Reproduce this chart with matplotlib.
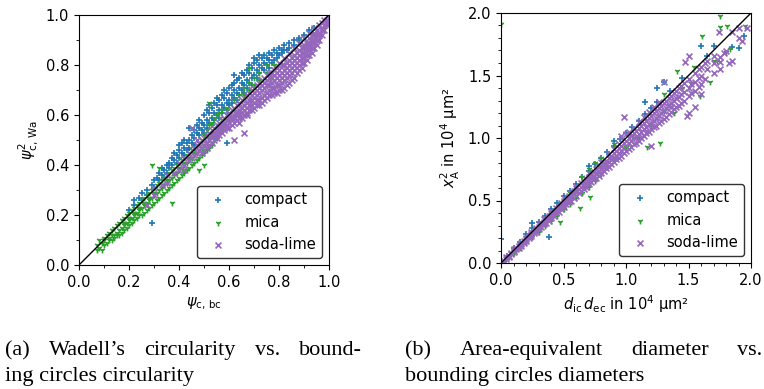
import matplotlib
matplotlib.use('Agg')
import matplotlib.pyplot as plt
import numpy as np

# (x, [y values]) groups
# panel (a): psi_c,bc vs psi^2_c,Wa
a_compact = [
    (0.20, [0.22]), (0.22, [0.24, 0.26]), (0.24, [0.27]), (0.25, [0.26, 0.29]), (0.27, [0.30, 0.28]),
    (0.29, [0.17, 0.32]), (0.30, [0.31, 0.34]), (0.31, [0.35]), (0.32, [0.34, 0.37]),
    (0.33, [0.36, 0.39]), (0.34, [0.38, 0.35]), (0.35, [0.40, 0.37]), (0.36, [0.41, 0.39]),
    (0.37, [0.43, 0.40]), (0.38, [0.42, 0.45]), (0.39, [0.44, 0.41]), (0.40, [0.46, 0.43, 0.48]),
    (0.41, [0.45, 0.49]), (0.42, [0.47, 0.50, 0.44]), (0.43, [0.49, 0.46]), (0.44, [0.55, 0.50, 0.47]),
    (0.45, [0.52, 0.49]), (0.46, [0.51, 0.54, 0.48]), (0.47, [0.53, 0.56]), (0.48, [0.55, 0.52, 0.58]),
    (0.49, [0.54, 0.57]), (0.50, [0.56, 0.60, 0.53]), (0.51, [0.58, 0.62, 0.55]),
    (0.52, [0.57, 0.61, 0.64]), (0.53, [0.59, 0.63, 0.56]), (0.54, [0.61, 0.65, 0.58]),
    (0.55, [0.60, 0.64, 0.67, 0.51]), (0.56, [0.62, 0.66, 0.59]), (0.57, [0.64, 0.68, 0.61]),
    (0.58, [0.63, 0.67, 0.70]), (0.59, [0.65, 0.69, 0.49, 0.62]), (0.60, [0.66, 0.71, 0.64]),
    (0.61, [0.68, 0.72, 0.65]), (0.62, [0.67, 0.70, 0.76, 0.73]), (0.63, [0.69, 0.74, 0.66]),
    (0.64, [0.71, 0.75, 0.68]), (0.65, [0.70, 0.73, 0.77]), (0.66, [0.72, 0.76, 0.69]),
    (0.67, [0.74, 0.78, 0.71]), (0.68, [0.73, 0.77, 0.80]), (0.69, [0.75, 0.79, 0.72]),
    (0.70, [0.76, 0.81, 0.83]), (0.71, [0.78, 0.82, 0.75]), (0.72, [0.77, 0.80, 0.84]),
    (0.73, [0.79, 0.83]), (0.74, [0.78, 0.81, 0.84]), (0.75, [0.80, 0.83]), (0.76, [0.79, 0.82, 0.85]),
    (0.77, [0.81, 0.84]), (0.78, [0.82, 0.86]), (0.79, [0.83, 0.85]), (0.80, [0.84, 0.87]),
    (0.81, [0.85, 0.86]), (0.82, [0.86, 0.88]), (0.83, [0.86]), (0.84, [0.87, 0.89]),
    (0.86, [0.88, 0.90]), (0.88, [0.90, 0.91]), (0.90, [0.92]), (0.92, [0.94]), (0.94, [0.95]),
]
a_mica = [
    (0.07, [0.06, 0.08]), (0.08, [0.07, 0.10]), (0.09, [0.06, 0.09]), (0.10, [0.08, 0.11, 0.10]),
    (0.11, [0.09, 0.12]), (0.12, [0.10, 0.13, 0.11]), (0.13, [0.10, 0.12, 0.14]),
    (0.14, [0.12, 0.15, 0.11]), (0.15, [0.13, 0.16, 0.12]), (0.16, [0.14, 0.17, 0.12]),
    (0.17, [0.15, 0.13, 0.18]), (0.18, [0.16, 0.14, 0.19, 0.17]), (0.19, [0.17, 0.15, 0.20]),
    (0.20, [0.18, 0.16, 0.21, 0.19]), (0.21, [0.19, 0.17, 0.22]), (0.22, [0.20, 0.18, 0.23, 0.21]),
    (0.23, [0.21, 0.19, 0.24]), (0.24, [0.22, 0.20, 0.25, 0.23]), (0.25, [0.23, 0.20, 0.26]),
    (0.26, [0.24, 0.21, 0.27, 0.25]), (0.27, [0.25, 0.22, 0.28]), (0.28, [0.26, 0.23, 0.29, 0.27]),
    (0.29, [0.27, 0.24, 0.30, 0.40]), (0.30, [0.28, 0.25, 0.31, 0.29]), (0.31, [0.29, 0.26, 0.32]),
    (0.32, [0.30, 0.27, 0.33, 0.39]), (0.33, [0.31, 0.28, 0.34, 0.32]), (0.34, [0.32, 0.29, 0.35]),
    (0.35, [0.33, 0.30, 0.36, 0.34]), (0.36, [0.34, 0.31, 0.37]), (0.37, [0.35, 0.25, 0.32, 0.38]),
    (0.38, [0.36, 0.33, 0.39, 0.37]), (0.39, [0.37, 0.34, 0.40]), (0.40, [0.38, 0.35, 0.41, 0.39]),
    (0.41, [0.39, 0.36, 0.42]), (0.42, [0.40, 0.37, 0.43, 0.41]), (0.43, [0.41, 0.38, 0.44]),
    (0.44, [0.42, 0.39, 0.45, 0.43]), (0.45, [0.43, 0.40, 0.46]), (0.46, [0.44, 0.41, 0.47, 0.45]),
    (0.47, [0.45, 0.42, 0.48]), (0.48, [0.46, 0.38, 0.43, 0.49]), (0.49, [0.47, 0.44, 0.50]),
    (0.50, [0.48, 0.40, 0.45, 0.52]), (0.51, [0.49, 0.46, 0.54]), (0.52, [0.51, 0.47, 0.56, 0.65]),
    (0.53, [0.52, 0.48, 0.57]), (0.54, [0.53, 0.50, 0.59]), (0.55, [0.55, 0.51, 0.60]),
    (0.56, [0.56, 0.53, 0.61]), (0.57, [0.58, 0.54, 0.62]), (0.58, [0.59, 0.56]),
    (0.59, [0.60, 0.63]), (0.60, [0.61, 0.58]), (0.62, [0.63, 0.66]), (0.64, [0.65, 0.68]),
    (0.66, [0.68, 0.71]), (0.68, [0.70, 0.73, 0.79]), (0.70, [0.72, 0.75]), (0.72, [0.74, 0.77]),
    (0.75, [0.77, 0.80]), (0.78, [0.80]),
]
a_soda = [
    (0.27, [0.24]), (0.30, [0.28, 0.31]), (0.33, [0.32]), (0.35, [0.33, 0.36]), (0.38, [0.37]),
    (0.40, [0.38, 0.41]), (0.42, [0.40, 0.43, 0.38]), (0.44, [0.42, 0.45]), (0.45, [0.43, 0.55]),
    (0.46, [0.44, 0.47]), (0.47, [0.45, 0.48, 0.50]), (0.48, [0.46, 0.49]), (0.49, [0.47, 0.50, 0.45]),
    (0.50, [0.48, 0.51, 0.46]), (0.51, [0.49, 0.52, 0.47]), (0.52, [0.50, 0.53, 0.48]),
    (0.53, [0.51, 0.54, 0.49, 0.52]), (0.54, [0.52, 0.55, 0.50]), (0.55, [0.51, 0.53, 0.56, 0.54]),
    (0.56, [0.52, 0.55, 0.57, 0.54]), (0.57, [0.53, 0.56, 0.58, 0.55]), (0.58, [0.54, 0.57, 0.59, 0.56]),
    (0.59, [0.55, 0.58, 0.60, 0.56]), (0.60, [0.55, 0.57, 0.60, 0.59, 0.61]),
    (0.61, [0.56, 0.59, 0.62, 0.58]), (0.62, [0.57, 0.60, 0.63, 0.50, 0.59]),
    (0.63, [0.58, 0.61, 0.64, 0.60]), (0.64, [0.59, 0.62, 0.65, 0.61, 0.57]),
    (0.65, [0.59, 0.63, 0.66, 0.61]), (0.66, [0.60, 0.64, 0.67, 0.53, 0.62]),
    (0.67, [0.61, 0.65, 0.68, 0.60, 0.63]), (0.68, [0.62, 0.66, 0.69, 0.64]),
    (0.69, [0.62, 0.66, 0.70, 0.64, 0.68]), (0.70, [0.63, 0.67, 0.71, 0.65, 0.69]),
    (0.71, [0.64, 0.68, 0.72, 0.66, 0.70]), (0.72, [0.64, 0.69, 0.73, 0.66, 0.71]),
    (0.73, [0.65, 0.70, 0.74, 0.67, 0.72]), (0.74, [0.66, 0.71, 0.75, 0.68, 0.73]),
    (0.75, [0.67, 0.72, 0.76, 0.69, 0.74]), (0.76, [0.68, 0.72, 0.77, 0.70, 0.75]),
    (0.77, [0.68, 0.73, 0.77, 0.71, 0.75]), (0.78, [0.69, 0.74, 0.78, 0.71, 0.76]),
    (0.79, [0.69, 0.75, 0.79, 0.72, 0.77]), (0.80, [0.70, 0.74, 0.78, 0.81, 0.72, 0.76]),
    (0.81, [0.70, 0.75, 0.80, 0.73, 0.77]), (0.82, [0.71, 0.76, 0.80, 0.83, 0.74, 0.78]),
    (0.83, [0.72, 0.77, 0.81, 0.75, 0.79]), (0.84, [0.73, 0.78, 0.82, 0.85, 0.76, 0.80]),
    (0.85, [0.74, 0.79, 0.83, 0.77, 0.81]), (0.86, [0.75, 0.80, 0.84, 0.87, 0.78, 0.82]),
    (0.87, [0.77, 0.81, 0.85, 0.79, 0.83]), (0.88, [0.78, 0.82, 0.86, 0.89, 0.80, 0.84]),
    (0.89, [0.79, 0.83, 0.87, 0.81, 0.85]), (0.90, [0.81, 0.85, 0.88, 0.91, 0.83, 0.87]),
    (0.91, [0.82, 0.86, 0.89, 0.84, 0.88]), (0.92, [0.84, 0.87, 0.91, 0.93, 0.86, 0.89]),
    (0.93, [0.85, 0.89, 0.92, 0.87, 0.90]), (0.94, [0.87, 0.90, 0.93, 0.95, 0.89, 0.92]),
    (0.95, [0.88, 0.92, 0.94, 0.90]), (0.96, [0.90, 0.93, 0.96, 0.92]), (0.97, [0.92, 0.95, 0.97, 0.94]),
    (0.98, [0.94, 0.96, 0.98]), (0.99, [0.96, 0.98, 0.97]), (1.00, [0.99]),
]

# panel (b): d_ic*d_ec vs x_A^2, in 1e4 um^2
b_compact = [
    (0.00, [0.19]), (0.05, [0.06]), (0.10, [0.12]), (0.15, [0.17]), (0.20, [0.23]),
    (0.25, [0.28, 0.32]), (0.30, [0.33]), (0.35, [0.38]), (0.38, [0.21]), (0.40, [0.43]),
    (0.45, [0.48]), (0.50, [0.54]), (0.55, [0.58]), (0.60, [0.63]), (0.65, [0.69]),
    (0.70, [0.74, 0.78]), (0.75, [0.79]), (0.80, [0.84]), (0.85, [0.89]), (0.90, [0.94, 0.98]),
    (0.95, [0.99]), (1.00, [1.04]), (1.05, [1.09]), (1.10, [1.14]), (1.15, [1.19, 1.29]),
    (1.20, [1.24]), (1.25, [1.29, 1.40]), (1.30, [1.45]), (1.35, [1.38]), (1.45, [1.48]),
    (1.60, [1.74]), (1.65, [1.66]), (1.70, [1.74]), (1.85, [1.73]), (1.90, [1.72]), (1.94, [1.82]),
]
b_mica = [
    (0.00, [1.91]), (0.03, [0.02]), (0.06, [0.05]), (0.10, [0.08, 0.11]), (0.15, [0.12, 0.15]),
    (0.20, [0.17, 0.20]), (0.25, [0.21, 0.25]), (0.30, [0.25, 0.30]), (0.35, [0.30, 0.35]),
    (0.40, [0.34, 0.40]), (0.45, [0.38, 0.44]), (0.47, [0.33]), (0.50, [0.43, 0.50]),
    (0.55, [0.47, 0.56]), (0.60, [0.52, 0.60]), (0.63, [0.44]), (0.65, [0.56, 0.69]),
    (0.70, [0.61, 0.75]), (0.71, [0.53]), (0.75, [0.66, 0.80]), (0.80, [0.71, 0.84]),
    (0.85, [0.77]), (0.90, [0.83, 0.95]), (0.95, [0.88]), (1.00, [0.93]), (1.05, [1.02]),
    (1.10, [1.00]), (1.17, [0.93]), (1.20, [1.10]), (1.27, [0.96]), (1.30, [1.22, 1.35]),
    (1.38, [1.20]), (1.41, [1.54]), (1.45, [1.40]), (1.53, [1.44]), (1.54, [1.57]),
    (1.59, [1.34]), (1.61, [1.82]), (1.67, [1.45]), (1.70, [1.62]), (1.73, [1.62]),
    (1.75, [1.89, 1.98]), (1.80, [1.69]), (1.81, [1.90]), (1.83, [1.71]), (1.95, [1.90]),
]
b_soda = [
    (0.02, [0.02]), (0.04, [0.03, 0.05]), (0.06, [0.05, 0.06]), (0.08, [0.07, 0.08]),
    (0.10, [0.09, 0.10, 0.11]), (0.12, [0.11, 0.12]), (0.14, [0.12, 0.14]), (0.16, [0.15, 0.16, 0.14]),
    (0.18, [0.16, 0.18]), (0.20, [0.18, 0.20, 0.19]), (0.22, [0.20, 0.22]), (0.24, [0.22, 0.23, 0.25]),
    (0.26, [0.24, 0.26]), (0.28, [0.25, 0.27, 0.28]), (0.30, [0.27, 0.29, 0.31]), (0.32, [0.29, 0.31]),
    (0.34, [0.31, 0.33, 0.35]), (0.36, [0.32, 0.35]), (0.38, [0.34, 0.36, 0.38]),
    (0.40, [0.36, 0.38, 0.40, 0.42]), (0.42, [0.38, 0.41]), (0.44, [0.40, 0.42, 0.44]),
    (0.46, [0.41, 0.44, 0.46]), (0.48, [0.43, 0.46, 0.48]), (0.50, [0.45, 0.47, 0.50, 0.52]),
    (0.52, [0.47, 0.50]), (0.54, [0.49, 0.51, 0.54]), (0.56, [0.50, 0.53, 0.56]),
    (0.58, [0.52, 0.55, 0.58]), (0.60, [0.54, 0.57, 0.60, 0.62]), (0.62, [0.56, 0.59]),
    (0.64, [0.58, 0.61, 0.64]), (0.66, [0.59, 0.62, 0.65]), (0.68, [0.61, 0.64, 0.67]),
    (0.70, [0.63, 0.66, 0.69, 0.72]), (0.72, [0.65, 0.68, 0.71]), (0.74, [0.67, 0.70, 0.73]),
    (0.76, [0.68, 0.72, 0.75]), (0.78, [0.70, 0.73, 0.77]), (0.80, [0.72, 0.75, 0.78, 0.81]),
    (0.82, [0.74, 0.77, 0.80]), (0.84, [0.76, 0.79, 0.82]), (0.86, [0.77, 0.81, 0.84, 0.87]),
    (0.88, [0.79, 0.83, 0.86]), (0.90, [0.81, 0.84, 0.88, 0.91]), (0.92, [0.83, 0.86, 0.90]),
    (0.94, [0.84, 0.88, 0.92, 0.95]), (0.96, [0.86, 0.90, 0.94, 1.02]), (0.98, [0.88, 0.92, 0.96, 1.17]),
    (1.00, [0.90, 0.94, 0.98, 1.03]), (1.02, [0.91, 0.96, 1.00, 1.05]), (1.04, [0.93, 0.98, 1.02]),
    (1.06, [0.95, 1.00, 1.04, 1.08]), (1.08, [0.96, 1.01, 1.06]), (1.10, [0.98, 1.03, 1.08, 1.13]),
    (1.12, [1.00, 1.05, 1.10]), (1.14, [1.02, 1.07, 1.12, 1.17]), (1.16, [1.04, 1.09, 1.14]),
    (1.18, [1.05, 1.11, 1.16, 1.21]), (1.20, [0.94, 1.07, 1.12, 1.18]), (1.22, [1.09, 1.14, 1.20, 1.25]),
    (1.24, [1.10, 1.16, 1.22]), (1.26, [1.12, 1.18, 1.24, 1.29]), (1.28, [1.14, 1.20, 1.26]),
    (1.30, [1.15, 1.22, 1.28, 1.45]), (1.32, [1.17, 1.24, 1.30]), (1.34, [1.19, 1.26, 1.32]),
    (1.36, [1.21, 1.28, 1.34, 1.25]), (1.38, [1.23, 1.30, 1.36]), (1.40, [1.25, 1.32, 1.38]),
    (1.42, [1.26, 1.33, 1.40]), (1.44, [1.28, 1.35, 1.42]), (1.46, [1.30, 1.37, 1.44]),
    (1.47, [1.61]), (1.49, [1.18]), (1.50, [1.20, 1.34, 1.40, 1.47, 1.66]), (1.52, [1.36, 1.43]),
    (1.55, [1.25, 1.38, 1.45, 1.52]), (1.58, [1.41, 1.48, 1.55]), (1.60, [1.35, 1.43, 1.50, 1.57]),
    (1.63, [1.47, 1.60]), (1.65, [1.55, 1.62]), (1.70, [1.52, 1.60, 1.66]), (1.74, [1.85]),
    (1.75, [1.55, 1.61, 1.65]), (1.78, [1.68]), (1.80, [1.70]), (1.82, [1.60]), (1.85, [1.62, 1.85]),
    (1.90, [1.80, 1.88]), (1.925, [1.78]), (1.965, [1.88]),
]

labels = ['compact', 'mica', 'soda-lime']
colors = ['tab:blue', 'tab:green', 'tab:purple']
markers = ['+', '1', 'x']


def flat(groups):
    xs = np.concatenate([[x] * len(ys) for x, ys in groups])
    ys = np.concatenate([ys for x, ys in groups])
    return xs, ys


W, H = 764, 389
fig = plt.figure(figsize=(W / 100, H / 100), dpi=100, facecolor='white')
ax1 = fig.add_axes([79 / W, 1 - 265 / H, 250 / W, 250 / H])
ax2 = fig.add_axes([501 / W, 1 - 263 / H, 250 / W, 250 / H])

fs = 10.5
for ax, series, lim, major in [(ax1, [a_compact, a_mica, a_soda], 1.0, 0.2),
                               (ax2, [b_compact, b_mica, b_soda], 2.0, 0.5)]:
    for grp, lab, c, m in zip(series, labels, colors, markers):
        x, y = flat(grp)
        ax.scatter(x, y, s=18, c=c, marker=m, linewidths=1.2, label=lab)
    ax.plot([0, lim], [0, lim], color='black', lw=1, zorder=3)
    ax.set_xlim(0, lim)
    ax.set_ylim(0, lim)
    ax.set_xticks(np.arange(0, lim + 1e-9, major))
    ax.set_yticks(np.arange(0, lim + 1e-9, major))
    ax.set_xticks(np.arange(0, lim + 1e-9, 0.1), minor=True)
    ax.set_yticks(np.arange(0, lim + 1e-9, 0.1), minor=True)
    ax.tick_params(labelsize=fs)
    leg = ax.legend(loc='lower right', fontsize=fs, scatterpoints=1, fancybox=True)
    leg.get_frame().set_edgecolor('black')

ax1.set_xlabel(r'$\psi_{\mathrm{c,\,bc}}$', fontsize=fs)
ax1.set_ylabel(r'$\psi^2_{\mathrm{c,\,Wa}}$', fontsize=fs)
ax2.set_xlabel(r'$d_\mathrm{ic}\,d_\mathrm{ec}$ in $10^4$ μm²', fontsize=fs)
ax2.set_ylabel(r'$x_\mathrm{A}^2$ in $10^4$ μm²', fontsize=fs)

# captions, justified like the typeset original
cap = dict(family='Liberation Serif', fontsize=16, va='baseline')
renderer = fig.canvas.get_renderer()


def justify(words, x0, x1, ytop):
    ts = [fig.text(0, 1 - ytop / H, w, **cap) for w in words]
    widths = [t.get_window_extent(renderer).width for t in ts]
    gap = (x1 - x0 - sum(widths)) / max(len(words) - 1, 1)
    x = x0
    for t, w in zip(ts, widths):
        t.set_x(x / W)
        x += w + gap


justify(['(a)', 'Wadell’s', 'circularity', 'vs.', 'bound-'], 5, 362, 355)
fig.text(5 / W, 1 - 381 / H, 'ing circles circularity', **cap)
justify(['(b)', 'Area-equivalent', 'diameter', 'vs.'], 405, 762, 355)
fig.text(405 / W, 1 - 381 / H, 'bounding circles diameters', **cap)

fig.savefig('out.png', dpi=100, facecolor='white')
